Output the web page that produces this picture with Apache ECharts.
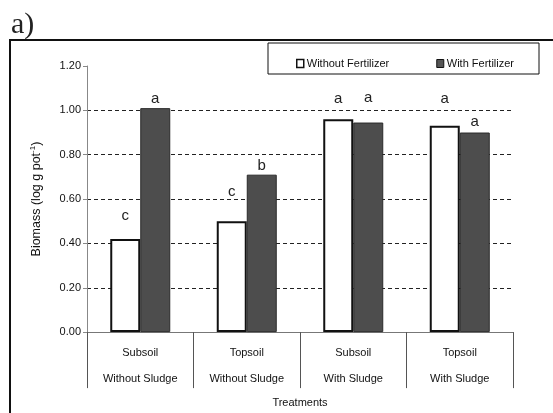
<!DOCTYPE html>
<html><head><meta charset="utf-8">
<script src="https://cdn.jsdelivr.net/npm/echarts@6/dist/echarts.min.js"></script>
<style>html,body{margin:0;padding:0;background:#fff}#c{width:553px;height:413px}</style>
</head><body><div id="c"></div>
<script>
var categories = ['Subsoil\nWithout Sludge', 'Topsoil\nWithout Sludge', 'Subsoil\nWith Sludge', 'Topsoil\nWith Sludge'];
var withoutFertilizer = [0.42, 0.50, 0.96, 0.93];
var withFertilizer = [1.01, 0.71, 0.945, 0.90];
var lettersWithout = ['c', 'c', 'a', 'a'];
var lettersWith = ['a', 'b', 'a', 'a'];
var yTicks = [0, 0.2, 0.4, 0.6, 0.8, 1.0, 1.2];
// label distances above bars (px)
var distWithout = [16, 22, 13, 20];
var distWith = [2, 1, 17, 3];

var FONT = 'Liberation Sans, Arial, sans-serif';
var chart = echarts.init(document.getElementById('c'));

function mk(vals, letters, dists) {
  return vals.map(function (v, i) {
    return { value: v, label: { show: true, position: 'top', distance: dists[i], formatter: letters[i] } };
  });
}

chart.setOption({
  animation: false,
  backgroundColor: '#fff',
  title: { text: 'a)', left: 6, top: 5, textStyle: { fontFamily: 'Liberation Serif, Times New Roman, serif', fontSize: 30, fontWeight: 'normal', color: '#222' } },
  graphic: [
    { type: 'rect', shape: { x: 10, y: 40, width: 600, height: 420 }, style: { fill: 'none', stroke: '#111', lineWidth: 2 }, z: 0 },
    { type: 'rect', shape: { x: 268, y: 43, width: 271, height: 31 }, style: { fill: '#fff', stroke: '#111', lineWidth: 1 }, z: 1 }
  ],
  legend: {
    left: 291, top: 53, itemWidth: 7, itemHeight: 8, itemGap: 47, z: 5,
    textStyle: { fontFamily: FONT, fontSize: 11, color: '#111', padding: [0, 0, 0, -2] },
    data: [
      { name: 'Without Fertilizer', icon: 'rect', itemStyle: { color: '#fff', borderColor: '#111', borderWidth: 1.5 } },
      { name: 'With Fertilizer', icon: 'rect', itemStyle: { color: '#555', borderColor: '#111', borderWidth: 1 } }
    ]
  },
  grid: { left: 87, right: 40, top: 66, bottom: 77 },
  xAxis: {
    type: 'category', data: categories,
    name: 'Treatments', nameLocation: 'middle', nameGap: 59,
    nameTextStyle: { fontFamily: FONT, fontSize: 11, color: '#111' },
    axisLine: { lineStyle: { color: '#777', width: 1 } },
    axisTick: { show: true, length: 56, lineStyle: { color: '#555', width: 1 } },
    axisLabel: { fontFamily: FONT, fontSize: 11, color: '#111', lineHeight: 26, margin: 8, interval: 0 }
  },
  yAxis: {
    type: 'value', min: 0, max: 1.2, interval: 0.2,
    name: 'Biomass (log g pot{s|-1})', nameLocation: 'middle', nameGap: 43,
    nameTextStyle: { fontFamily: FONT, fontSize: 12.5, color: '#111', rich: { s: { fontSize: 8, padding: [0, 0, 7, 0], fontFamily: FONT, color: '#111' } } },
    axisLine: { show: true, lineStyle: { color: '#888' } },
    axisTick: { show: true, length: 4, lineStyle: { color: '#888' } },
    axisLabel: { fontFamily: FONT, fontSize: 11, color: '#111', margin: 6, formatter: function (v) { return v.toFixed(2); } },
    splitLine: { show: true, lineStyle: { type: [4, 3], width: 1, color: ['rgba(0,0,0,0)', '#222', '#222', '#222', '#222', '#222', 'rgba(0,0,0,0)'] } }
  },
  series: [
    {
      name: 'Without Fertilizer', type: 'bar', barWidth: 30, barGap: '0%',
      data: mk(withoutFertilizer, lettersWithout, distWithout),
      itemStyle: { color: '#fff', borderColor: '#111', borderWidth: 2 },
      label: { fontFamily: FONT, fontSize: 15, color: '#222' }
    },
    {
      name: 'With Fertilizer', type: 'bar', barWidth: 30, barGap: '0%',
      data: mk(withFertilizer, lettersWith, distWith),
      itemStyle: { color: '#4d4d4d', borderColor: '#2a2a2a', borderWidth: 1 },
      label: { fontFamily: FONT, fontSize: 15, color: '#222' }
    }
  ]
});
</script></body></html>
